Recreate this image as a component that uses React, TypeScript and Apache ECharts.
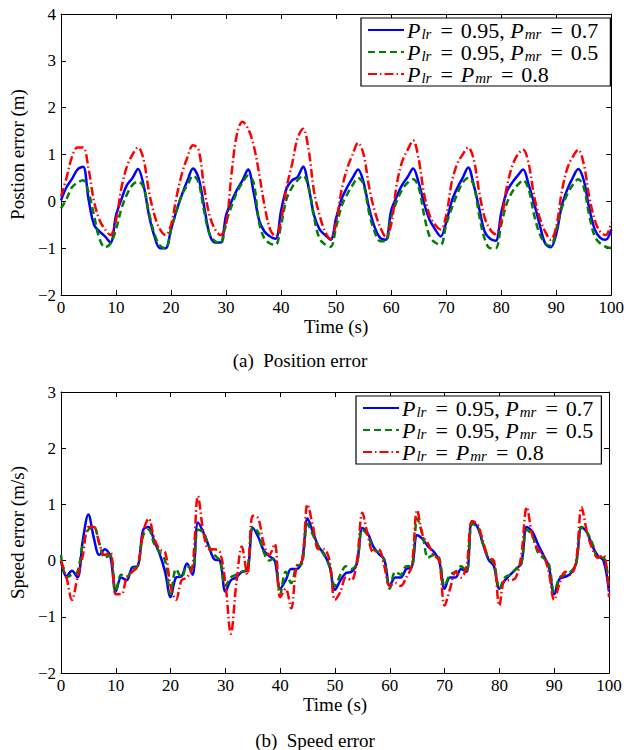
import React, { useEffect, useRef } from 'react';
import * as echarts from 'echarts';

const TIME: number[] = Array.from({ length: 101 }, (_, i) => i);
const X_TICKS = { min: 0, max: 100, interval: 10 };
const POS_Y = { min: -2, max: 4, interval: 1 };
const SPD_Y = { min: -2, max: 3, interval: 1 };

const NAMES = ['P_lr = 0.95, P_mr = 0.7', 'P_lr = 0.95, P_mr = 0.5', 'P_lr = P_mr = 0.8'];

const POS_BLUE = [
  0.02, 0.3, 0.48, 0.68, 0.74, 0.05, -0.5, -0.64, -0.75, -0.88,
  -0.3, 0.05, 0.35, 0.5, 0.69, 0.35, -0.3, -0.75, -1.0, -1.0,
  -0.6, -0.2, 0.15, 0.45, 0.7, 0.5, -0.1, -0.7, -0.88, -0.88,
  -0.3, 0.0, 0.25, 0.45, 0.68, 0.2, -0.4, -0.65, -0.75, -0.8,
  -0.2, 0.28, 0.45, 0.52, 0.74, 0.3, -0.3, -0.6, -0.72, -0.82,
  -0.36, 0.05, 0.3, 0.5, 0.68, 0.4, -0.15, -0.55, -0.78, -0.82,
  -0.2, 0.1, 0.35, 0.52, 0.7, 0.4, -0.05, -0.4, -0.6, -0.75,
  -0.45, 0.0, 0.28, 0.5, 0.72, 0.35, -0.15, -0.65, -0.8, -0.84,
  -0.25, 0.2, 0.4, 0.55, 0.68, 0.35, -0.05, -0.5, -0.9, -0.98,
  -0.7, -0.1, 0.25, 0.5, 0.69, 0.45, -0.15, -0.6, -0.78, -0.82,
  -0.6,
];
const POS_GREEN = [
  -0.15, 0.05, 0.3, 0.4, 0.45, 0.2, -0.3, -0.8, -0.98, -0.9,
  -0.6, -0.15, 0.15, 0.35, 0.42, 0.3, -0.25, -0.7, -0.95, -1.0,
  -0.6, -0.2, 0.15, 0.35, 0.55, 0.4, -0.2, -0.7, -0.85, -0.9,
  -0.45, -0.1, 0.2, 0.4, 0.55, 0.4, -0.45, -0.8, -0.9, -0.93,
  -0.5, 0.05, 0.3, 0.45, 0.55, 0.3, -0.35, -0.8, -0.92, -0.97,
  -0.55, -0.1, 0.15, 0.35, 0.5, 0.35, -0.25, -0.65, -0.85, -0.85,
  -0.35, 0.0, 0.25, 0.4, 0.47, 0.3, -0.3, -0.75, -0.88, -0.93,
  -0.5, -0.15, 0.15, 0.4, 0.5, 0.35, -0.3, -0.8, -1.0, -1.0,
  -0.5, -0.05, 0.2, 0.35, 0.45, 0.25, -0.3, -0.7, -0.9, -0.95,
  -0.6, -0.15, 0.15, 0.35, 0.47, 0.3, -0.3, -0.75, -0.9, -0.97,
  -1.0,
];
const POS_RED = [
  0.1, 0.5, 0.95, 1.15, 1.15, 0.7, 0.0, -0.4, -0.6, -0.72,
  -0.4, 0.3, 0.75, 1.0, 1.15, 0.9, 0.2, -0.3, -0.6, -0.72,
  -0.5, 0.1, 0.6, 0.95, 1.2, 1.1, 0.3, -0.3, -0.6, -0.72,
  -0.5, 0.6, 1.45, 1.7, 1.55, 1.2, 0.6, -0.1, -0.6, -0.75,
  -0.4, 0.3, 0.8, 1.35, 1.55, 1.1, 0.2, -0.3, -0.65, -0.8,
  -0.45, 0.25, 0.7, 1.0, 1.25, 1.0, 0.3, -0.2, -0.55, -0.75,
  -0.5, 0.35, 0.85, 1.1, 1.3, 0.9, 0.15, -0.3, -0.5, -0.6,
  -0.3, 0.4, 0.8, 1.0, 1.15, 0.9, 0.2, -0.35, -0.6, -0.7,
  -0.4, 0.3, 0.75, 1.0, 1.1, 0.8, 0.1, -0.35, -0.65, -0.82,
  -0.55, 0.2, 0.7, 0.95, 1.1, 0.8, 0.1, -0.4, -0.65, -0.72,
  -0.45,
];

const SPD_BLUE = [
  0.0, -0.28, -0.18, -0.3, 0.37, 0.82, 0.4, 0.1, 0.2, 0.08,
  -0.55, -0.3, -0.35, -0.12, -0.1, 0.55, 0.6, 0.35, 0.12, -0.2,
  -0.65, -0.3, -0.28, -0.05, -0.25, 0.68, 0.5, 0.25, 0.02, 0.0,
  -0.55, -0.35, -0.3, -0.2, -0.18, 0.58, 0.42, 0.18, 0.08, 0.0,
  -0.5, -0.35, -0.15, -0.15, 0.0, 0.75, 0.5, 0.25, 0.12, -0.1,
  -0.52, -0.35, -0.22, -0.2, -0.05, 0.58, 0.48, 0.25, 0.12, 0.02,
  -0.45, -0.3, -0.3, -0.15, -0.12, 0.45, 0.38, 0.25, 0.16, 0.0,
  -0.5, -0.3, -0.3, -0.15, -0.2, 0.7, 0.6, 0.3, 0.02, -0.1,
  -0.5, -0.35, -0.25, -0.15, -0.05, 0.6, 0.52, 0.3, 0.1, -0.1,
  -0.6, -0.32, -0.29, -0.23, -0.05, 0.6, 0.5, 0.25, 0.08, 0.0,
  -0.55,
];
const SPD_GREEN = [
  0.1, -0.3, -0.25, -0.2, 0.3, 0.55, 0.6, 0.3, 0.05, 0.1,
  -0.55, -0.25, -0.3, -0.15, -0.1, 0.45, 0.55, 0.3, 0.15, 0.0,
  -0.6, -0.15, -0.3, -0.1, -0.15, 0.55, 0.5, 0.25, 0.1, 0.0,
  -0.45, -0.3, -0.25, -0.2, -0.15, 0.6, 0.5, 0.15, 0.0, 0.05,
  -0.6, -0.2, -0.4, -0.1, -0.05, 0.65, 0.45, 0.25, 0.1, -0.1,
  -0.45, -0.25, -0.1, -0.15, -0.05, 0.55, 0.45, 0.2, 0.15, 0.0,
  -0.5, -0.2, -0.25, -0.1, -0.1, 0.75, 0.45, 0.05, 0.1, 0.05,
  -0.45, -0.25, -0.2, -0.1, -0.2, 0.65, 0.6, 0.3, 0.05, -0.05,
  -0.5, -0.3, -0.25, -0.15, -0.05, 0.55, 0.45, 0.15, 0.05, -0.05,
  -0.55, -0.3, -0.25, -0.2, -0.05, 0.6, 0.5, 0.3, 0.05, 0.05,
  -0.5,
];
const SPD_RED = [
  0.0, -0.3, -0.7, -0.3, 0.1, 0.6, 0.6, 0.3, 0.1, 0.15,
  -0.6, -0.6, -0.3, -0.2, -0.1, 0.5, 0.75, 0.4, 0.2, 0.15,
  -0.45, -0.7, -0.35, -0.3, -0.1, 1.15, 0.5, 0.2, 0.2, 0.15,
  -0.4, -1.3, -0.4, 0.25, -0.25, 0.8, 0.75, 0.3, 0.1, 0.3,
  -0.65, -0.5, -0.85, -0.1, 0.0, 1.0, 0.6, 0.2, 0.2, 0.0,
  -0.7, -0.55, -0.3, -0.35, 0.0, 0.85, 0.45, 0.15, 0.2, -0.1,
  -0.45, -0.4, -0.45, -0.3, -0.1, 0.9, 0.45, 0.3, 0.1, 0.0,
  -0.8, -0.5, -0.2, -0.3, -0.1, 0.7, 0.65, 0.35, 0.05, 0.0,
  -0.8, -0.35, -0.35, -0.3, 0.1, 0.95, 0.45, 0.2, 0.1, -0.2,
  -0.7, -0.4, -0.2, -0.25, 0.0, 0.95, 0.5, 0.2, 0.05, 0.1,
  -0.65,
];

const COLORS = ['#0000ff', '#007f00', '#ff0000'];
const DASHES: any[] = ['solid', [7, 4], [9, 3, 1.5, 3]];
const SERIF = '"Liberation Serif", "Times New Roman", serif';

const minus = (v: number) => String(v).replace('-', '\u2212');

function legendFormatter(name: string) {
  if (name === NAMES[0]) return '{i|P}{s|lr}{e|=}{t|0.95, }{i|P}{s|mr}{e|=}{t|0.7}';
  if (name === NAMES[1]) return '{i|P}{s|lr}{e|=}{t|0.95, }{i|P}{s|mr}{e|=}{t|0.5}';
  return '{i|P}{s|lr}{e|=}{i|P}{s|mr}{e|=}{t|0.8}';
}

const RICH = {
  i: { fontFamily: SERIF, fontStyle: 'italic', fontSize: 22, lineHeight: 22, color: '#000' },
  t: { fontFamily: SERIF, fontSize: 22, lineHeight: 22, color: '#000' },
  e: { fontFamily: SERIF, fontSize: 22, lineHeight: 22, color: '#000', padding: [0, 8, 0, 8] },
  s: { fontFamily: SERIF, fontStyle: 'italic', fontSize: 15, lineHeight: 10, verticalAlign: 'bottom', color: '#000', padding: [0, 1, 0, 1] },
};

function makeAxes(grid: number, yr: { min: number; max: number; interval: number }, yName: string, yGap: number) {
  const line = { show: true, onZero: false, lineStyle: { color: '#000', width: 1 } };
  const tick = { show: true, inside: true, length: 5, lineStyle: { color: '#000', width: 1 } };
  const lab = { fontFamily: SERIF, fontSize: 17, color: '#000' };
  const nameStyle = { fontFamily: SERIF, fontSize: 19, color: '#000' };
  const xAxes = [
    {
      gridIndex: grid, type: 'value', position: 'bottom', ...X_TICKS,
      axisLine: line, axisTick: tick, splitLine: { show: false },
      axisLabel: { ...lab, margin: 4, formatter: (v: number) => minus(v) },
      name: 'Time (s)', nameLocation: 'middle', nameGap: 19,
      nameTextStyle: { ...nameStyle, verticalAlign: 'top' },
    },
    {
      gridIndex: grid, type: 'value', position: 'top', ...X_TICKS,
      axisLine: line, axisTick: tick, splitLine: { show: false }, axisLabel: { show: false },
    },
  ];
  const yAxes = [
    {
      gridIndex: grid, type: 'value', position: 'left', ...yr,
      axisLine: line, axisTick: tick, splitLine: { show: false },
      axisLabel: { ...lab, margin: 5, formatter: (v: number) => minus(v) },
      name: yName, nameLocation: 'middle', nameGap: yGap,
      nameTextStyle: { ...nameStyle },
    },
    {
      gridIndex: grid, type: 'value', position: 'right', ...yr,
      axisLine: line, axisTick: tick, splitLine: { show: false }, axisLabel: { show: false },
    },
  ];
  return { xAxes, yAxes };
}

function makeSeries(values: number[][], axisIndex: number) {
  return values.map((vals, k) => ({
    name: NAMES[k],
    type: 'line',
    xAxisIndex: axisIndex,
    yAxisIndex: axisIndex,
    data: TIME.map((t, i) => [t, vals[i]]),
    symbol: 'none',
    showSymbol: false,
    smooth: 0.35,
    color: COLORS[k],
    lineStyle: { color: COLORS[k], width: 2.5, type: DASHES[k] },
    z: 2 + k,
  }));
}

function makeLegend(left: number, top: number, padRight: number) {
  return {
    data: NAMES,
    orient: 'vertical',
    left,
    top,
    itemWidth: 36,
    itemHeight: 14,
    itemGap: 0,
    padding: [1, padRight, 1, 6],
    backgroundColor: '#fff',
    borderColor: '#000',
    borderWidth: 1.2,
    borderRadius: 0,
    selectedMode: false,
    itemStyle: { opacity: 0, color: 'transparent', borderWidth: 0 },
    formatter: legendFormatter,
    textStyle: { rich: RICH, padding: [0, 0, 0, -2] },
  };
}

export default function App() {
  const ref = useRef<HTMLDivElement>(null);
  useEffect(() => {
    if (!ref.current) return;
    const chart = echarts.init(ref.current, undefined, { renderer: 'svg' });
    const a = makeAxes(0, POS_Y, 'Postion error (m)', 28);
    const b = makeAxes(1, SPD_Y, 'Speed error (m/s)', 27);
    chart.setOption({
      animation: false,
      backgroundColor: '#fff',
      grid: [
        { left: 57, top: 14, width: 556, height: 281 },
        { left: 52, top: 392, width: 557, height: 281 },
      ],
      xAxis: [...a.xAxes, ...b.xAxes],
      yAxis: [...a.yAxes, ...b.yAxes],
      legend: [makeLegend(361, 18, 12), makeLegend(356, 396, 8)],
      series: [
        ...makeSeries([POS_BLUE, POS_GREEN, POS_RED], 0),
        ...makeSeries([SPD_BLUE, SPD_GREEN, SPD_RED], 2),
      ],
      graphic: [
        {
          type: 'text', x: 300, y: 360,
          style: { text: '(a)  Position error', font: `19px ${SERIF}`, fill: '#000', textAlign: 'center', textVerticalAlign: 'middle' },
        },
        {
          type: 'text', x: 315, y: 740,
          style: { text: '(b)  Speed error', font: `19px ${SERIF}`, fill: '#000', textAlign: 'center', textVerticalAlign: 'middle' },
        },
      ],
    });
    return () => chart.dispose();
  }, []);
  return <div ref={ref} style={{ position: 'absolute', left: 0, top: 0, width: 627, height: 750, background: '#fff' }} />;
}
